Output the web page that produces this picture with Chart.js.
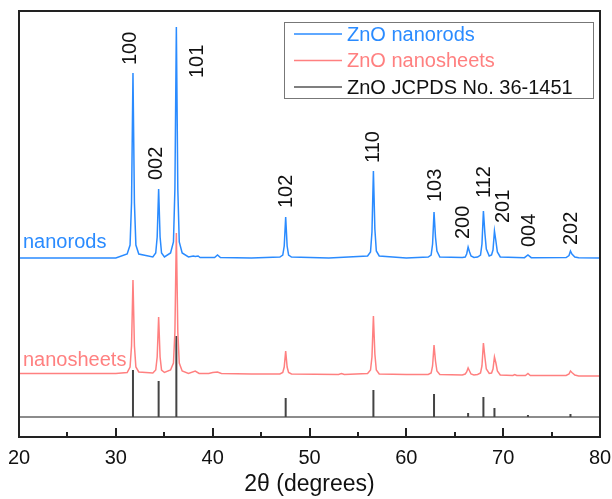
<!DOCTYPE html>
<html>
<head>
<meta charset="utf-8">
<script src="https://cdn.jsdelivr.net/npm/chart.js@4.4.1/dist/chart.umd.min.js"></script>
<style>
  html, body { margin: 0; padding: 0; background: #fff; }
  #xrd { display: block; }
</style>
</head>
<body>
<canvas id="xrd" width="612" height="499"></canvas>
<script>
// 2-theta positions and offset intensities (arb. units) for each pattern
const rodsTheta = [20, 25, 30, 31.17, 31.47, 31.62, 31.77, 31.92, 32.07, 32.37, 33.82, 34.12, 34.27, 34.42, 34.57, 34.72, 35.02,
  35.65, 35.95, 36.10, 36.25, 36.40, 36.55, 36.85, 37.5, 38.0, 38.2, 38.5, 38.7, 40.2, 40.5, 40.8, 44, 46.94, 47.24, 47.39, 47.54,
  47.69, 47.84, 48.14, 52, 56.00, 56.30, 56.45, 56.60, 56.75, 56.90, 57.20, 60, 62.26, 62.56, 62.71, 62.86, 63.01, 63.16, 63.46,
  65.78, 66.08, 66.23, 66.38, 66.53, 66.68, 66.98, 67.36, 67.66, 67.81, 67.96, 68.11, 68.26, 68.56, 68.80, 68.95, 69.10, 69.25,
  69.40, 69.70, 72.2, 72.56, 72.9, 76.5, 76.8, 76.95, 77.1, 77.4, 77.8, 80];
const rodsCounts = [179, 179, 179, 183, 192, 234, 364, 234, 192, 183, 180, 184, 200, 248, 200, 184, 180,
  184, 195, 248, 410, 248, 195, 184, 180, 181, 180.5, 181, 179.5, 179.5, 182, 179.5, 179, 180, 182, 191, 220,
  191, 182, 180, 179, 181, 185, 205, 266, 208, 186, 181, 179, 180, 182, 193, 225, 200, 186, 180,
  179.5, 180, 183, 190, 185, 181, 179.5, 180, 182, 193, 226, 204, 188, 181, 182, 187, 206, 196,
  185, 180, 179.3, 182, 179.3, 179.5, 181.5, 186, 183, 180, 179.3, 179];

const sheetsTheta = [20, 25, 30, 31.17, 31.47, 31.62, 31.77, 31.92, 32.07, 32.37, 33.82, 34.12, 34.27, 34.42, 34.57, 34.72, 35.02,
  35.65, 35.95, 36.10, 36.25, 36.40, 36.55, 36.85, 37.5, 38.2, 38.6, 39.6, 40.0, 40.5, 40.9, 44, 46.94, 47.24, 47.39, 47.54,
  47.69, 47.84, 48.14, 53.0, 53.3, 53.6, 56.00, 56.30, 56.45, 56.60, 56.75, 56.90, 57.20, 60, 62.26, 62.56, 62.71, 62.86, 63.01,
  63.16, 63.46, 65.78, 66.08, 66.23, 66.38, 66.53, 66.68, 66.98, 67.36, 67.66, 67.81, 67.96, 68.11, 68.26, 68.56, 68.80, 68.95,
  69.10, 69.25, 69.40, 69.70, 71.0, 71.2, 71.4, 72.3, 72.56, 72.8, 76.5, 76.8, 76.95, 77.1, 77.4, 77.8, 80];
const sheetsCounts = [63.5, 63.5, 63.5, 64.5, 70, 91, 157, 91, 70, 65, 64, 67, 80, 120, 80, 67, 64.5,
  67, 74, 105, 204, 105, 74, 66, 63.5, 66, 63.5, 63.5, 64.5, 65, 63.5, 63, 63, 64.5, 70, 86,
  70, 64.5, 63, 62.5, 63.5, 62.5, 63.5, 67, 80, 121, 83, 67, 63, 62.5, 62.5, 64, 71, 92, 76,
  66, 62.5, 62, 63, 65, 69, 66, 63, 62, 62.5, 64, 71, 94, 80, 68, 63.5, 64, 68,
  80, 74, 66, 62, 61.5, 62.5, 61.5, 61.5, 63.5, 61.5, 61.5, 63, 66, 64.5, 62, 61, 61];

// reference card lines (JCPDS 36-1451) with their hkl indices
const jcpdsBase = 20;
const jcpdsTheta = [31.77, 34.42, 36.25, 47.54, 56.60, 62.86, 66.38, 67.96, 69.10, 72.56, 76.95];
const jcpdsTop = [67, 56, 101, 39, 47, 43, 24, 40, 29, 22, 23];
const hklLabels = ['100', '002', '101', '102', '110', '103', '200', '112', '201', '004', '202'];

const seriesNames = ['ZnO nanorods', 'ZnO nanosheets', 'ZnO JCPDS No. 36-1451'];
const xTicks = [20, 30, 40, 50, 60, 70, 80];

const BLUE = '#2a8bff';
const RED = '#ff8080';
const FONT = '"Liberation Sans", Arial, sans-serif';

// sticks: up and back with a gap after each line
const stickPoints = [];
jcpdsTheta.forEach((t, i) => {
  stickPoints.push({x: t, y: jcpdsBase}, {x: t, y: jcpdsTop[i]}, {x: t, y: null});
});

// small shifts for labels that sit beside their peak
const labelNudge = {
  '100': [-3, 0], '002': [-3, -1], '101': [20, 59], '102': [0, -1], '110': [-1, 0], '103': [0, -2],
  '200': [-6, 0], '112': [0, -5], '201': [8, 0], '004': [1, 0], '202': [0, 2]
};

const decorPlugin = {
  id: 'decor',
  afterDatasetsDraw(chart) {
    const {ctx, chartArea: area, scales: {x, y}} = chart;
    ctx.save();

    // frame
    ctx.strokeStyle = '#222';
    ctx.lineWidth = 2;
    ctx.strokeRect(area.left, area.top, area.right - area.left, area.bottom - area.top);

    // inward ticks, majors every 10 and minors between
    ctx.lineWidth = 2;
    for (let v = 25; v < 80; v += 5) {
      const px = Math.round(x.getPixelForValue(v));
      const len = v % 10 === 0 ? 9 : 5;
      ctx.beginPath();
      ctx.moveTo(px, area.bottom);
      ctx.lineTo(px, area.bottom - len);
      ctx.stroke();
    }

    // hkl labels above the nanorods peaks
    ctx.fillStyle = '#111';
    ctx.font = '20px ' + FONT;
    ctx.textAlign = 'left';
    ctx.textBaseline = 'middle';
    hklLabels.forEach((hkl, i) => {
      const t = jcpdsTheta[i];
      let top = 0;
      rodsTheta.forEach((rt, j) => { if (Math.abs(rt - t) < 0.05) top = Math.max(top, rodsCounts[j]); });
      const [dx, dy] = labelNudge[hkl];
      const px = x.getPixelForValue(t) + dx;
      const py = y.getPixelForValue(top) - 8 + dy;
      ctx.save();
      ctx.translate(px, py);
      ctx.rotate(-Math.PI / 2);
      ctx.fillText(hkl, 0, 1);
      ctx.restore();
    });

    // trace names
    ctx.font = '20px ' + FONT;
    ctx.textBaseline = 'alphabetic';
    ctx.fillStyle = BLUE;
    ctx.fillText('nanorods', area.left + 4, y.getPixelForValue(rodsCounts[0]) - 10);
    ctx.fillStyle = RED;
    ctx.fillText('nanosheets', area.left + 4, y.getPixelForValue(sheetsCounts[0]) - 8);

    // legend box
    const lx = area.right - 316, ly = area.top + 11;
    ctx.fillStyle = '#fff';
    ctx.fillRect(lx, ly, 309, 76);
    ctx.strokeStyle = '#777';
    ctx.lineWidth = 1;
    ctx.strokeRect(lx + 0.5, ly + 0.5, 309, 76);
    const legendColors = [BLUE, RED, '#111'];
    const legendLines = [BLUE, RED, '#555'];
    ctx.textBaseline = 'middle';
    seriesNames.forEach((name, i) => {
      const ry = ly + 12 + i * 26.5;
      ctx.strokeStyle = legendLines[i];
      ctx.lineWidth = 1.5;
      ctx.beginPath();
      ctx.moveTo(lx + 10, ry);
      ctx.lineTo(lx + 58, ry);
      ctx.stroke();
      ctx.fillStyle = legendColors[i];
      ctx.fillText(name, lx + 63, ry + 1);
    });

    ctx.restore();
  }
};

const toPoints = (xs, ys) => xs.map((t, i) => ({x: t, y: ys[i]}));

new Chart(document.getElementById('xrd'), {
  type: 'line',
  data: {
    datasets: [{
      label: seriesNames[0],
      data: toPoints(rodsTheta, rodsCounts),
      borderColor: BLUE,
      borderWidth: 1.5
    }, {
      label: seriesNames[1],
      data: toPoints(sheetsTheta, sheetsCounts),
      borderColor: RED,
      borderWidth: 1.5
    }, {
      label: seriesNames[2],
      data: stickPoints,
      borderColor: '#444',
      borderWidth: 2,
      spanGaps: false
    }, {
      label: 'baseline',
      data: [{x: 20, y: jcpdsBase}, {x: 80, y: jcpdsBase}],
      borderColor: '#8c8c8c',
      borderWidth: 2
    }]
  },
  options: {
    responsive: false,
    animation: false,
    events: [],
    layout: { padding: { left: 19, right: 12, top: 11, bottom: 0 } },
    elements: {
      point: { radius: 0 },
      line: { tension: 0, borderCapStyle: 'butt' }
    },
    plugins: {
      legend: { display: false },
      tooltip: { enabled: false }
    },
    scales: {
      x: {
        type: 'linear',
        min: 20,
        max: 80,
        afterBuildTicks: (scale) => { scale.ticks = xTicks.map(v => ({value: v})); },
        afterFit: (scale) => {
          scale.height = 62;
          scale.paddingLeft = 0;
          scale.paddingRight = 0;
        },
        grid: { display: false, drawTicks: false },
        border: { display: false },
        ticks: { color: '#111', font: { family: FONT, size: 20 }, padding: 9, maxRotation: 0 },
        title: {
          display: true,
          text: '2θ (degrees)',
          color: '#111',
          font: { family: FONT, size: 23 },
          padding: { top: 0, bottom: 1 }
        }
      },
      y: {
        display: false,
        min: 0,
        max: 426
      }
    }
  },
  plugins: [decorPlugin]
});
</script>
</body>
</html>
